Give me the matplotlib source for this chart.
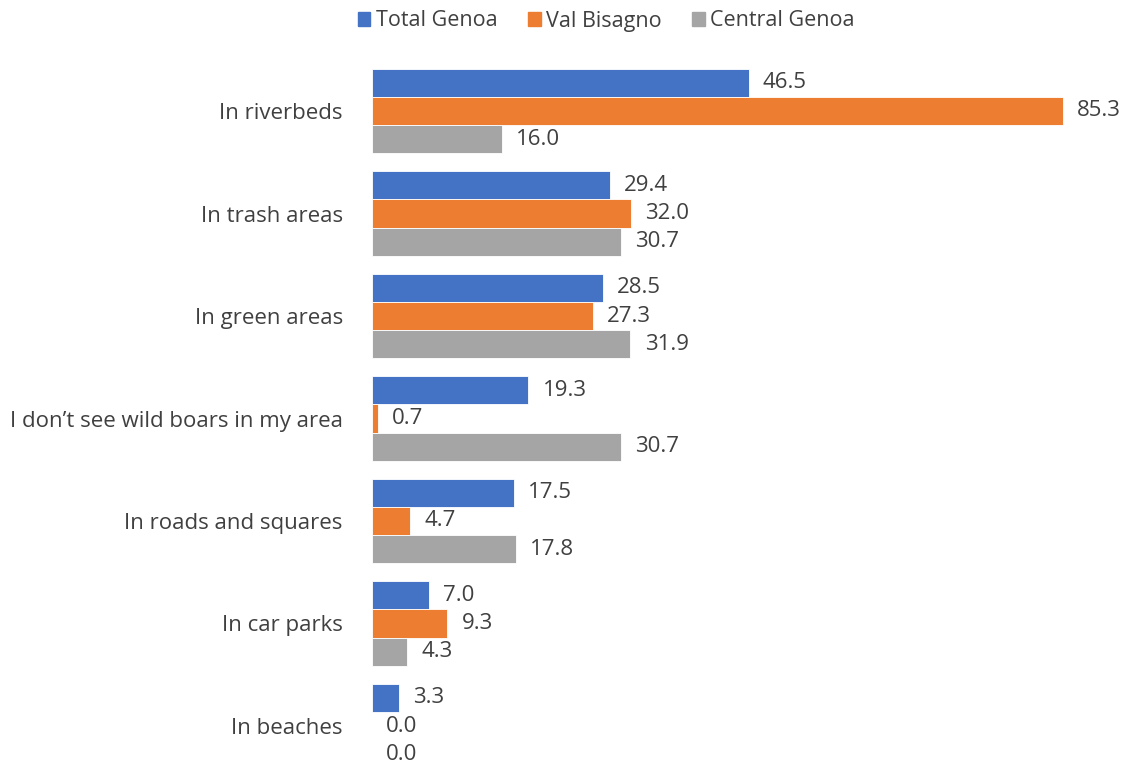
import matplotlib
matplotlib.use("Agg")
import matplotlib.pyplot as plt
import numpy as np

categories = ["In riverbeds", "In trash areas", "In green areas",
              "I don\u2019t see wild boars in my area", "In roads and squares",
              "In car parks", "In beaches"]
total_genoa = [46.5, 29.4, 28.5, 19.3, 17.5, 7.0, 3.3]
val_bisagno = [85.3, 32.0, 27.3, 0.7, 4.7, 9.3, 0.0]
central_genoa = [16.0, 30.7, 31.9, 30.7, 17.8, 4.3, 0.0]
series_names = ["Total Genoa", "Val Bisagno", "Central Genoa"]
colors = ["#4472C4", "#ED7D31", "#A5A5A5"]

plt.rcParams['font.family'] = ['Open Sans', 'DejaVu Sans']
text_color = "#404040"

W, H = 1128, 763
fig = plt.figure(figsize=(W / 100, H / 100), dpi=100)
left_px, right_px = 372, 372 + 90 * 8.1
top_px, bot_px = 60, 763
ax = fig.add_axes([left_px / W, 1 - bot_px / H, (right_px - left_px) / W, (bot_px - top_px) / H])

n = len(categories)
y = np.arange(n)
bh = 0.275
all_series = [total_genoa, val_bisagno, central_genoa]
for k, (vals, name, c) in enumerate(zip(all_series, series_names, colors)):
    pos = y + (k - 1) * bh
    ax.barh(pos, vals, height=bh, color=c, label=name, edgecolor='white', linewidth=0.6)
    for p, v in zip(pos, vals):
        ax.text(v + 1.75, p, f"{v:.1f}", va='center', ha='left', fontsize=16, color=text_color)

ax.set_xlim(0, 90)
c0 = 111
step = 102.5
ax.set_ylim((bot_px - c0) / step, (top_px - c0) / step)
ax.set_yticks(y)
ax.set_yticklabels(categories, fontsize=16, color=text_color)
ax.tick_params(axis='y', length=0, pad=21)
ax.set_xticks([])
for s in ax.spines.values():
    s.set_visible(False)

handles = [plt.Rectangle((0, 0), 1, 1, color=c) for c in colors]
fig.legend(handles, series_names, loc='center', bbox_to_anchor=(606 / W, 1 - 21 / H),
           ncol=3, frameon=False, fontsize=15.5, handlelength=0.6, handleheight=0.6,
           handletextpad=0.25, columnspacing=1.4, labelcolor=text_color)

fig.savefig("out.png", dpi=100)
